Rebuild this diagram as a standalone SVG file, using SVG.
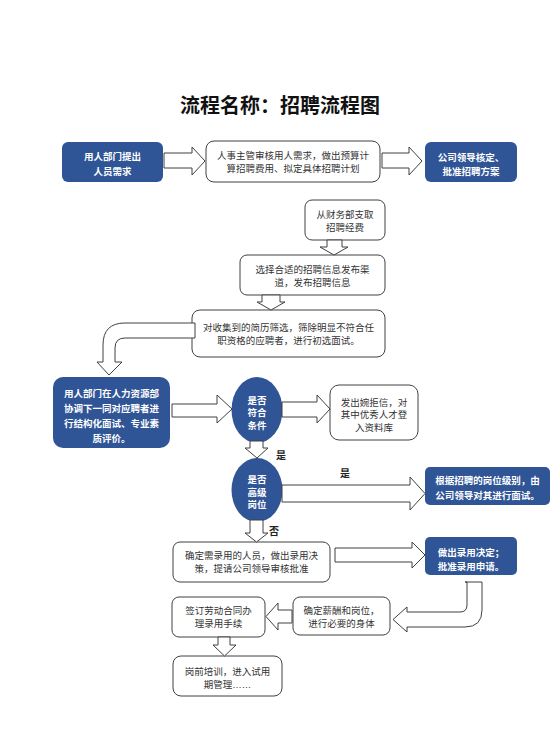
<svg xmlns="http://www.w3.org/2000/svg" width="560" height="746" viewBox="0 0 560 746">
<style>
text{font-family:"Noto Sans CJK SC","Liberation Sans",sans-serif;text-anchor:middle;}
.t{font-size:9.5px;fill:#333;}
.tw{font-size:9.5px;fill:#fff;font-weight:bold;}
.title{font-size:20px;font-weight:bold;fill:#111;}
.lbl{font-size:10px;font-weight:bold;fill:#222;}
.lat{font-family:"Liberation Sans",sans-serif;}
.bw{fill:#fff;stroke:#404040;stroke-width:1;}
.bb{fill:#2f5597;stroke:none;}
.ar{fill:#fff;stroke:#404040;stroke-width:1;stroke-linejoin:miter;}
</style>
<rect width="560" height="746" fill="#fff"/>
<text class="title" x="280" y="113">流程名称：招聘流程图</text>

<g id="n1"><rect class="bb" x="62" y="142" width="101" height="40" rx="6"/><text class="tw"><tspan x="112.5" y="159.5">用人部门提出</tspan><tspan x="112.5" y="175">人员需求</tspan></text></g>
<g id="n2"><rect class="bw" x="206" y="141" width="174" height="41" rx="8"/><text class="t"><tspan x="293" y="158.5">人事主管审核用人需求，做出预算计</tspan><tspan x="293" y="171.5">算招聘费用、拟定具体招聘计划</tspan></text></g>
<g id="n3"><rect class="bb" x="425" y="142" width="92" height="40" rx="6"/><text class="tw"><tspan x="471" y="160.5">公司领导核定、</tspan><tspan x="471" y="175">批准招聘方案</tspan></text></g>
<g id="n4"><rect class="bw" x="305" y="200" width="80" height="40" rx="7"/><text class="t"><tspan x="345" y="218">从财务部支取</tspan><tspan x="345" y="231">招聘经费</tspan></text></g>
<g id="n5"><rect class="bw" x="240" y="255" width="145" height="40" rx="7"/><text class="t"><tspan x="312.5" y="273">选择合适的招聘信息发布渠</tspan><tspan x="312.5" y="286">道，发布招聘信息</tspan></text></g>
<g id="n6"><rect class="bw" x="192" y="310" width="193" height="47" rx="8"/><text class="t"><tspan x="288.5" y="330.5">对收集到的简历筛选，筛除明显不符合任</tspan><tspan x="288.5" y="343.5">职资格的应聘者，进行初选面试。</tspan></text></g>
<g id="n7"><rect class="bb" x="53" y="377" width="117" height="71" rx="10"/><text class="tw"><tspan x="111.5" y="397">用人部门在人力资源部</tspan><tspan x="111.5" y="411.5">协调下一同对应聘者进</tspan><tspan x="111.5" y="426.5">行结构化面试、专业素</tspan><tspan x="111.5" y="441.5">质评价。</tspan></text></g>
<g id="n8"><ellipse class="bb" cx="257" cy="410" rx="25.5" ry="33"/><text class="tw"><tspan x="257" y="403.5">是否</tspan><tspan x="257" y="416">符合</tspan><tspan x="257" y="428.5">条件</tspan></text></g>
<g id="n9"><rect class="bw" x="330" y="385" width="88" height="55" rx="9"/><text class="t"><tspan x="374" y="405.5">发出婉拒信，对</tspan><tspan x="374" y="418">其中优秀人才登</tspan><tspan x="374" y="430.5">入资料库</tspan></text></g>
<g id="n10"><ellipse class="bb" cx="257" cy="490" rx="25.5" ry="32"/><text class="tw"><tspan x="257" y="483">是否</tspan><tspan x="257" y="495.5">高级</tspan><tspan x="257" y="508">岗位</tspan></text></g>
<g id="n11"><rect class="bb" x="425" y="467" width="125" height="38" rx="5"/><text class="tw"><tspan x="487.5" y="484">根据招聘的岗位级别，由</tspan><tspan x="487.5" y="499">公司领导对其进行面试。</tspan></text></g>
<g id="n12"><rect class="bw" x="173" y="542" width="157" height="40" rx="7"/><text class="t"><tspan x="251.5" y="559">确定需录用的人员，做出录用决</tspan><tspan x="251.5" y="572">策，提请公司领导审核批准</tspan></text></g>
<g id="n13"><rect class="bb" x="425" y="537" width="92" height="38" rx="5"/><text class="tw"><tspan x="471" y="556">做出录用决定；</tspan><tspan x="471" y="569.5">批准录用申请。</tspan></text></g>
<g id="n14"><rect class="bw" x="293" y="597" width="97" height="38" rx="7"/><text class="t"><tspan x="341.5" y="613.5">确定薪酬和岗位，</tspan><tspan x="341.5" y="626.5">进行必要的身体</tspan></text></g>
<g id="n15"><rect class="bw" x="172" y="597" width="93" height="40" rx="7"/><text class="t"><tspan x="218.5" y="613.5">签订劳动合同办</tspan><tspan x="218.5" y="626.5">理录用手续</tspan></text></g>
<g id="n16"><rect class="bw" x="173" y="656" width="109" height="40" rx="8"/><text class="t"><tspan x="227.5" y="675">岗前培训，进入试用</tspan><tspan x="227.5" y="688">期管理<tspan class="lat">……</tspan></tspan></text></g>

<g id="connectors">
<polygon class="ar" points="164,153 192,153 192,147 205,161 192,175 192,168 164,168"/>
<polygon class="ar" points="382,153 409,153 409,147 422,161 409,175 409,168 382,168"/>
<polygon class="ar" points="327,240 342,240 342,247 348,247 334,255 320,247 327,247"/>
<polygon class="ar" points="262,295 280,295 280,302 285,302 271,310 257,302 262,302"/>
<path class="ar" d="M195,323 L125,323 Q103,323 103,345 L103,362 L97,362 L109,375 L122,362 L115,362 L115,348 Q115,338 125,338 L195,338 Z"/>
<polygon class="ar" points="172,404 217,404 217,395 232,409 217,423 217,417 172,417"/>
<polygon class="ar" points="282,402 317,402 317,395 330,409 317,423 317,417 282,417"/>
<polygon class="ar" points="250,441 263,441 263,448 268,448 257,458 245,448 250,448"/>
<polygon class="ar" points="282,485 410,485 410,477 425,493.5 410,510 410,502 282,502"/>
<polygon class="ar" points="250,520 263,520 263,533 268,533 256.5,542 245,533 250,533"/>
<polygon class="ar" points="335,548 412,548 412,542 425,555 412,568 412,562 335,562"/>
<path class="ar" d="M465,582 L482,582 L482,610 Q482,627 465,627 L407,627 L407,632 L393,619.5 L407,607 L407,612 L460,612 Q467,612 467,605 L467,582 Z"/>
<polygon class="ar" points="292,610 278,610 278,603 266,616.5 278,630 278,623 292,623"/>
<polygon class="ar" points="218,637 230,637 230,645 236,645 224.5,656 213,645 218,645"/>
<text class="lbl" x="281" y="459">是</text>
<text class="lbl" x="345" y="477">是</text>
<text class="lbl" x="274" y="535">否</text>
</g>
</svg>
